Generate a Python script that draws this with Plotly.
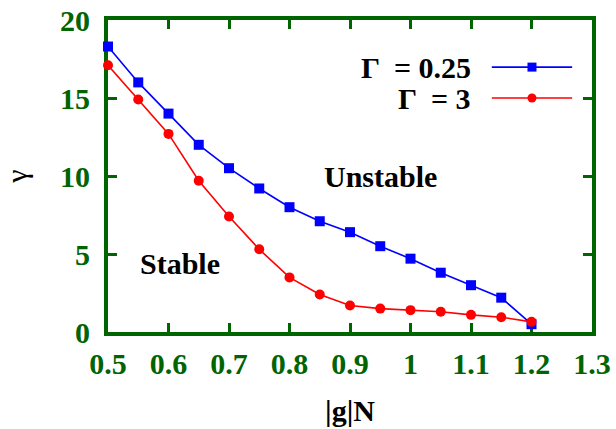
import plotly.graph_objects as go

gN = [0.5, 0.55, 0.6, 0.65, 0.7, 0.75, 0.8, 0.85, 0.9, 0.95, 1.0, 1.05, 1.1, 1.15, 1.2]
gamma_025 = [18.3, 16.0, 14.0, 12.0, 10.5, 9.2, 8.0, 7.1, 6.4, 5.5, 4.7, 3.8, 3.0, 2.2, 0.5]
gamma_3 = [17.1, 14.9, 12.7, 9.7, 7.4, 5.3, 3.5, 2.4, 1.7, 1.5, 1.4, 1.3, 1.1, 0.95, 0.65]
series_names = ["\u0393  = 0.25", "\u0393  = 3"]
series_colors = ["#0000ff", "#ff0000"]
series_symbols = ["square", "circle"]
x_ticks = [0.5, 0.6, 0.7, 0.8, 0.9, 1.0, 1.1, 1.2, 1.3]
x_ticklabels = ["0.5", "0.6", "0.7", "0.8", "0.9", "1", "1.1", "1.2", "1.3"]
y_ticks = [0, 5, 10, 15, 20]

GREEN = "#006400"
FONT = "Liberation Serif"
FS = 30

fig = go.Figure()
for ys, name, col, sym in zip([gamma_025, gamma_3], series_names, series_colors, series_symbols):
    fig.add_trace(go.Scatter(x=gN, y=ys, mode="lines+markers", name=name,
                             line=dict(color=col, width=1.6),
                             marker=dict(color=col, symbol=sym, size=10),
                             cliponaxis=False, showlegend=False))

# custom legend (text to the left of sample), drawn on an overlay axis in [0,1]
leg_y = [0.849, 0.75]
for name, col, sym, ly in zip(series_names, series_colors, series_symbols, leg_y):
    fig.add_trace(go.Scatter(x=[0.793, 0.876, 0.959], y=[ly, ly, ly], mode="lines",
                             line=dict(color=col, width=1.6), xaxis="x2", yaxis="y2",
                             showlegend=False, hoverinfo="skip"))
    fig.add_trace(go.Scatter(x=[0.876], y=[ly], mode="markers",
                             marker=dict(color=col, symbol=sym, size=9), xaxis="x2", yaxis="y2",
                             showlegend=False, hoverinfo="skip"))
    fig.add_annotation(x=0.754, y=ly, xref="x2", yref="y2", text=name, showarrow=False,
                       xanchor="right", yanchor="middle",
                       font=dict(family=FONT, size=FS, color="black", weight="bold"))

fig.add_annotation(x=0.95, y=10.0, text="Unstable", showarrow=False,
                   font=dict(family=FONT, size=FS, color="black", weight="bold"))
fig.add_annotation(x=0.619, y=4.36, text="Stable", showarrow=False,
                   font=dict(family=FONT, size=FS, color="black", weight="bold"))

axis_common = dict(showline=True, linecolor=GREEN, linewidth=4, mirror="ticks",
                   ticks="inside", ticklen=9, tickwidth=3, tickcolor=GREEN,
                   showgrid=False, zeroline=False, layer="below traces", automargin=False,
                   tickfont=dict(family=FONT, size=FS, color=GREEN, weight="bold"))

fig.update_layout(
    width=616, height=429,
    margin=dict(l=108, r=24, t=20, b=97),
    plot_bgcolor="white", paper_bgcolor="white",
    xaxis=dict(range=[0.5, 1.3], tickvals=x_ticks, ticktext=x_ticklabels,
               ticklabelstandoff=2,
               title=dict(text="|g|N", standoff=22,
                          font=dict(family=FONT, size=FS, color="black", weight="bold")),
               **axis_common),
    yaxis=dict(range=[0, 20], tickvals=y_ticks, ticklabelstandoff=8,
               title=dict(text="\u03b3", standoff=32,
                          font=dict(family=FONT, size=FS, color="black")),
               **axis_common),
    xaxis2=dict(range=[0, 1], overlaying="x", visible=False, fixedrange=True),
    yaxis2=dict(range=[0, 1], overlaying="y", visible=False, fixedrange=True),
)

fig.write_html("out.html")
